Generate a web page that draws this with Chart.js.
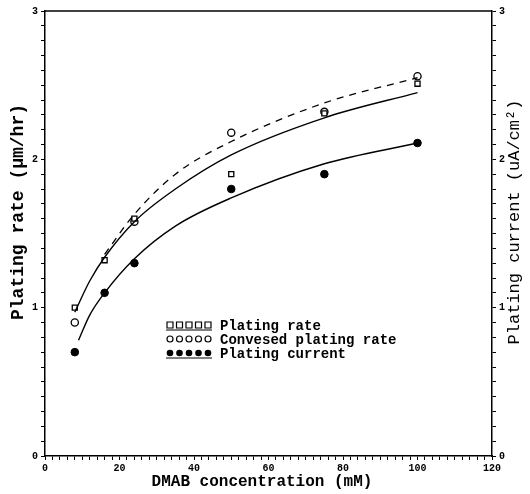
<!DOCTYPE html>
<html>
<head>
<meta charset="utf-8">
<script src="https://cdn.jsdelivr.net/npm/chart.js@4"></script>
<style>
html,body{margin:0;padding:0;background:#fff;}
#wrap{width:530px;height:494px;position:relative;}
</style>
</head>
<body>
<div id="wrap"><canvas id="c" width="530" height="494"></canvas></div>
<script>
// ---- data ----
const xTickLabels = [0, 20, 40, 60, 80, 100, 120];
const yTickLabels = [0, 1, 2, 3];

// measured points
const rateX = [8, 16, 24, 50, 75, 100];
const rateY = [1.00, 1.32, 1.60, 1.90, 2.31, 2.51];

const convX = [8, 24, 50, 75, 100];
const convY = [0.90, 1.58, 2.18, 2.32, 2.56];

const currX = [8, 16, 24, 50, 75, 100];
const currY = [0.70, 1.10, 1.30, 1.80, 1.90, 2.11];

// fitted curves (traced)
const rateFitX = [8, 12, 16, 24, 35, 50, 75, 100];
const rateFitY = [0.97, 1.18, 1.34, 1.58, 1.80, 2.03, 2.28, 2.45];

const convFitX = [16, 24, 35, 50, 75, 100];
const convFitY = [1.36, 1.63, 1.90, 2.12, 2.38, 2.55];

const currFitX = [9, 12, 16, 24, 35, 50, 75, 100];
const currFitY = [0.78, 0.95, 1.10, 1.33, 1.55, 1.74, 1.97, 2.11];

const legendLabels = ['Plating rate', 'Convesed plating rate', 'Plating current'];
const titleX = 'DMAB concentration (mM)';
const titleYL = 'Plating rate (\u03BCm/hr)';
const titleYR = 'Plating current (uA/cm\u00B2)';

function pts(xs, ys){ return xs.map((x,i)=>({x:x, y:ys[i]})); }

const FONT = '"Liberation Mono", "DejaVu Sans Mono", monospace';

const PLOT = {left:45, right:492, top:11, bottom:456};

const decor = {
  id:'decor',
  afterDraw(chart){
    const ctx = chart.ctx;
    const a = chart.chartArea;
    ctx.save();
    // top border
    ctx.strokeStyle = '#000';
    ctx.lineWidth = 1.5;
    ctx.beginPath();
    ctx.moveTo(a.left, a.top);
    ctx.lineTo(a.right, a.top);
    ctx.stroke();
    ctx.fillStyle = '#000';
    // bottom title
    ctx.font = 'bold 16px ' + FONT;
    ctx.textAlign = 'center';
    ctx.textBaseline = 'middle';
    ctx.fillText(titleX, 262, 482);
    // left title
    ctx.save();
    ctx.translate(18, 212);
    ctx.rotate(-Math.PI/2);
    ctx.font = 'bold 18px ' + FONT;
    ctx.fillText(titleYL, 0, 0);
    ctx.restore();
    // right title
    ctx.save();
    ctx.translate(514, 222);
    ctx.rotate(-Math.PI/2);
    ctx.font = '17px ' + FONT;
    ctx.fillText(titleYR, 0, 0);
    ctx.restore();
    // legend
    const rows = [325, 339, 353];
    const sx = 170, sstep = 9.5;
    ctx.font = 'bold 14px ' + FONT;
    ctx.textAlign = 'left';
    for (let r = 0; r < 3; r++){
      const y = rows[r];
      for (let k = 0; k < 5; k++){
        const x = sx + k*sstep;
        ctx.lineWidth = 1.2;
        ctx.beginPath();
        if (r === 0){
          ctx.rect(x-3, y-3, 6, 6);
          ctx.stroke();
        } else if (r === 1){
          ctx.arc(x, y, 3, 0, Math.PI*2);
          ctx.stroke();
        } else {
          ctx.arc(x, y, 3.3, 0, Math.PI*2);
          ctx.fill();
        }
      }
      ctx.beginPath();
      ctx.lineWidth = 1;
      ctx.moveTo(sx-4, y+5); ctx.lineTo(sx+4*sstep+4, y+5);
      if (r !== 1) ctx.stroke();
      ctx.fillText(legendLabels[r], 220, y+1);
    }
    ctx.restore();
  }
};

const tickFont = {family: FONT, size: 10, weight: 'bold'};

new Chart(document.getElementById('c'), {
  type: 'scatter',
  data: {
    datasets: [
      {data: pts(rateFitX, rateFitY), showLine:true, borderColor:'#000', borderWidth:1.4, pointRadius:0, cubicInterpolationMode:'monotone', fill:false},
      {data: pts(convFitX, convFitY), showLine:true, borderColor:'#000', borderWidth:1.3, borderDash:[7,6], pointRadius:0, cubicInterpolationMode:'monotone', fill:false},
      {data: pts(currFitX, currFitY), showLine:true, borderColor:'#000', borderWidth:1.4, pointRadius:0, cubicInterpolationMode:'monotone', fill:false},
      {data: pts(rateX, rateY), showLine:false, pointStyle:'rect', pointRadius:3.6, borderColor:'#000', backgroundColor:'#fff', pointBorderWidth:1.3},
      {data: pts(convX, convY), showLine:false, pointStyle:'circle', pointRadius:3.6, borderColor:'#000', backgroundColor:'#fff', pointBorderWidth:1.3},
      {data: pts(currX, currY), showLine:false, pointStyle:'circle', pointRadius:3.8, borderColor:'#000', backgroundColor:'#000', pointBorderWidth:1}
    ]
  },
  options: {
    responsive:false,
    animation:false,
    layout:{padding:{top:PLOT.top, left:0, right:0, bottom:0}},
    plugins:{legend:{display:false}, tooltip:{enabled:false}},
    scales:{
      x:{
        type:'linear', min:0, max:120,
        afterFit(s){ s.height = 494 - PLOT.bottom; },
        border:{display:true, color:'#000', width:1.5},
        grid:{drawOnChartArea:false, color:'#000', tickLength:4, tickColor:'#000', lineWidth:1},
        ticks:{stepSize:2, autoSkip:false, maxRotation:0, padding:2, color:'#000', font:tickFont,
          callback:(v)=> Math.abs(v-Math.round(v))<1e-6 && xTickLabels.includes(Math.round(v)) ? String(Math.round(v)) : ''}
      },
      y:{
        type:'linear', position:'left', min:0, max:3,
        afterFit(s){ s.width = PLOT.left; },
        border:{display:true, color:'#000', width:1.5},
        grid:{drawOnChartArea:false, color:'#000', tickLength:4, lineWidth:1},
        ticks:{stepSize:0.1, autoSkip:false, padding:3, color:'#000', font:tickFont,
          callback:(v)=> Math.abs(v-Math.round(v))<1e-6 && yTickLabels.includes(Math.round(v)) ? String(Math.round(v)) : ''}
      },
      y2:{
        type:'linear', position:'right', min:0, max:3,
        afterFit(s){ s.width = 530 - PLOT.right; },
        border:{display:true, color:'#000', width:1.5},
        grid:{drawOnChartArea:false, color:'#000', tickLength:4, lineWidth:1},
        ticks:{stepSize:0.1, autoSkip:false, padding:3, color:'#000', font:tickFont,
          callback:(v)=> Math.abs(v-Math.round(v))<1e-6 && yTickLabels.includes(Math.round(v)) ? String(Math.round(v)) : ''}
      }
    }
  },
  plugins:[decor]
});
</script>
</body>
</html>
